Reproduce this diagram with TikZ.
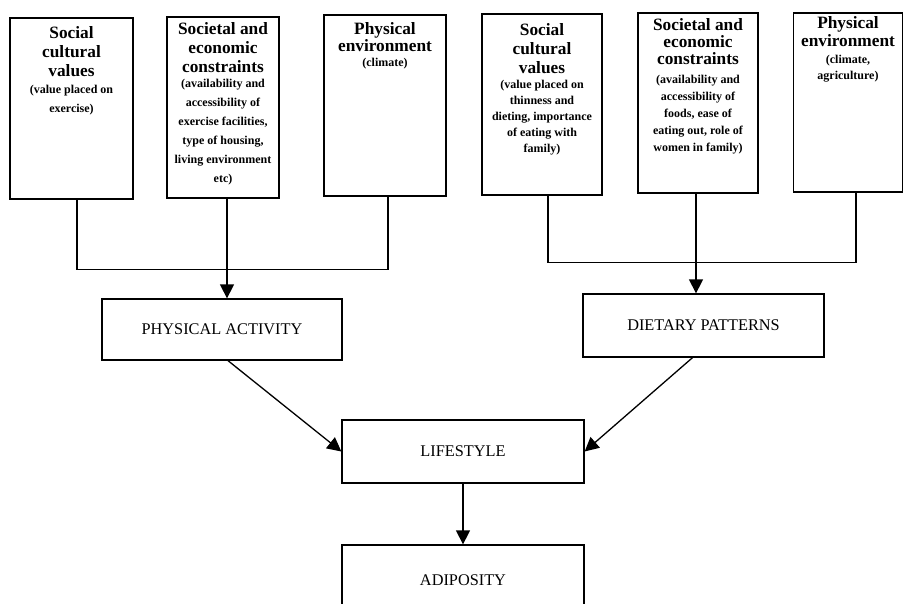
\documentclass[tikz,border=0pt]{standalone}
\usepackage{fontspec}
\setmainfont{Liberation Serif}
\usetikzlibrary{arrows.meta}
\tikzset{
  box/.style={draw, line width=1.3pt, inner sep=0pt},
  ttl/.style={font=\fontsize{17.3}{18.5}\selectfont\bfseries, align=center, inner sep=0pt, anchor=north},
  sub/.style={font=\fontsize{12}{18.5}\selectfont\bfseries, align=center, inner sep=0pt, anchor=north},
  lbl/.style={box, font=\fontsize{16.3}{18}\selectfont},
  ln/.style={line width=1.3pt},
  arr/.style={line width=1.3pt, -{Triangle[length=14pt,width=14pt]}}
}
\begin{document}
\begin{tikzpicture}[x=1pt,y=-1pt]
\useasboundingbox (0,0) rectangle (904,603);
% top boxes
\node[box, minimum width=123pt, minimum height=181pt] (b1) at (71.5,108.5) {};
\node[box, minimum width=112pt, minimum height=181pt] (b2) at (223,107.5) {};
\node[box, minimum width=122pt, minimum height=181pt] (b3) at (385,105.5) {};
\node[box, minimum width=120pt, minimum height=181pt] (b4) at (542,104.5) {};
\node[box, minimum width=120pt, minimum height=180pt] (b5) at (698,103) {};
\node[box, minimum width=109pt, minimum height=179pt] (b6) at (848,102.5) {};
% texts
\node[ttl, font=\fontsize{17.3}{19}\selectfont\bfseries] (b1t) at ([yshift=-9pt]b1.north) {Social\\cultural\\values};
\node[sub] (b1s) at ([yshift=-68pt]b1.north) {(value placed on\\exercise)};
\node[ttl, font=\fontsize{17.3}{19}\selectfont\bfseries] (b2t) at ([yshift=-6pt]b2.north) {Societal and\\economic\\constraints};
\node[sub, font=\fontsize{12}{19}\selectfont\bfseries] (b2s) at ([yshift=-63pt]b2.north) {(availability and\\accessibility of\\exercise facilities,\\type of housing,\\living environment\\etc)};
\node[ttl, font=\fontsize{17.3}{17}\selectfont\bfseries] (b3t) at ([yshift=-8pt]b3.north) {Physical\\environment};
\node[sub] (b3s) at ([yshift=-44pt]b3.north) {(climate)};
\node[ttl, font=\fontsize{17.3}{19}\selectfont\bfseries] (b4t) at ([yshift=-10pt]b4.north) {Social\\cultural\\values};
\node[sub, font=\fontsize{12}{15.8}\selectfont\bfseries] (b4s) at ([yshift=-67pt]b4.north) {(value placed on\\thinness and\\dieting, importance\\of eating with\\family)};
\node[ttl, font=\fontsize{17.3}{17}\selectfont\bfseries] (b5t) at ([yshift=-6pt]b5.north) {Societal and\\economic\\constraints};
\node[sub, font=\fontsize{12}{16.8}\selectfont\bfseries] (b5s) at ([yshift=-63pt]b5.north) {(availability and\\accessibility of\\foods, ease of\\eating out, role of\\women in family)};
\node[ttl, font=\fontsize{17.3}{18}\selectfont\bfseries] (b6t) at ([yshift=-4pt]b6.north) {Physical\\environment};
\node[sub, font=\fontsize{12}{16}\selectfont\bfseries] (b6s) at ([yshift=-43pt]b6.north) {(climate,\\agriculture)};
% middle boxes
\node[lbl, minimum width=240pt, minimum height=61pt] (pa) at (222,329.5) {PHYSICAL ACTIVITY};
\node[lbl, minimum width=241pt, minimum height=63pt] (dp) at (703.5,325.5) {DIETARY PATTERNS};
\node[lbl, minimum width=242pt, minimum height=63pt] (ls) at (463,451.5) {LIFESTYLE};
\node[lbl, minimum width=242pt, minimum height=70pt] (ad) at (463,580) {ADIPOSITY};
% connectors
\draw[ln] ([xshift=5.5pt]b1.south) -- ++(0,70) -| ([xshift=3pt]b3.south);
\draw[ln] ([xshift=6pt]b4.south) -- ++(0,67) -| ([xshift=8pt]b6.south);
\draw[arr] ([xshift=4pt]b2.south) -- ([xshift=4pt]b2.south |- pa.north);
\draw[arr] ([xshift=-2pt]b5.south) -- ([xshift=-2pt]b5.south |- dp.north);
\draw[arr] ([xshift=6pt]pa.south) -- (ls.west);
\draw[arr] ([xshift=-11pt]dp.south) -- (ls.east);
\draw[arr] (ls.south) -- (ad.north);
\end{tikzpicture}
\end{document}
